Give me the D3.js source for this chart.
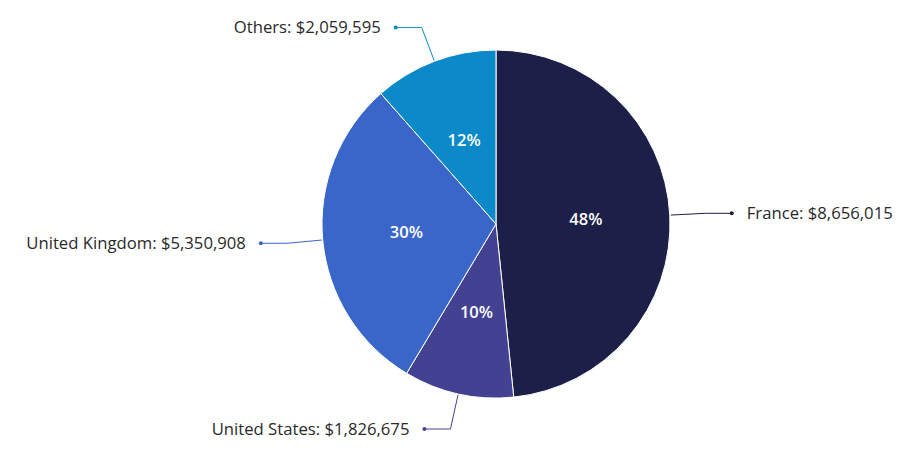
<!DOCTYPE html>
<html><head><meta charset="utf-8">
<script src="https://cdn.jsdelivr.net/npm/d3@7"></script>
<style>
html,body{margin:0;padding:0;background:#fff;}
svg{display:block;font-family:"Open Sans",sans-serif;}
</style></head>
<body><svg id="chart" width="909" height="460"></svg>
<script>
const categories = ["France", "United States", "United Kingdom", "Others"];
const values = [8656015, 1826675, 5350908, 2059595];
const colors = ["#1c1f48", "#434292", "#3a66c9", "#0b89c9"];

const W = 909, H = 460;
const cx = 496, cy = 224, R = 174;
const svg = d3.select("#chart");
const g = svg.append("g").attr("transform", `translate(${cx},${cy})`);

const data = categories.map((c, i) => ({name: c, value: values[i], color: colors[i]}));
const total = d3.sum(values);
const pie = d3.pie().value(d => d.value).sort(null);
const arcs = pie(data);
const arc = d3.arc().innerRadius(0).outerRadius(R);
const fmt = d3.format(",");

g.selectAll("path.slice").data(arcs).enter().append("path")
  .attr("class", "slice")
  .attr("d", arc)
  .attr("fill", d => d.data.color)
  .attr("stroke", "#fff").attr("stroke-width", 1);

// percentage labels
const inner = d3.arc().innerRadius(90).outerRadius(90);
g.selectAll("text.pct").data(arcs).enter().append("text")
  .attr("class", "pct")
  .attr("x", d => inner.centroid(d)[0])
  .attr("y", d => inner.centroid(d)[1])
  .attr("text-anchor", "middle")
  .attr("dy", "0.35em")
  .attr("fill", "#fff")
  .attr("font-size", 16.5)
  .attr("font-weight", 600)
  .text(d => Math.round(d.value / total * 100) + "%");

// connectors and outside labels
function pt(a, r) { return [Math.sin(a) * r, -Math.cos(a) * r]; }
arcs.forEach(d => {
  const a = (d.startAngle + d.endAngle) / 2;
  const p0 = pt(a, R + 1);
  const p1 = pt(a, 210);
  const side = p1[0] >= 0 ? 1 : -1;
  const p2 = [p1[0] + side * 26, p1[1]];
  g.append("polyline")
    .attr("points", [p0, p1, p2].map(p => p.join(",")).join(" "))
    .attr("fill", "none")
    .attr("stroke", d.data.color)
    .attr("stroke-width", 1);
  g.append("circle").attr("cx", p2[0]).attr("cy", p2[1]).attr("r", 2)
    .attr("fill", d.data.color);
  g.append("text")
    .attr("x", p2[0] + side * 15)
    .attr("y", p2[1])
    .attr("dy", "0.35em")
    .attr("text-anchor", side > 0 ? "start" : "end")
    .attr("font-size", 16.7)
    .attr("fill", "#2a2a2a")
    .text(d.data.name + ": $" + fmt(d.data.value));
});
</script></body></html>
